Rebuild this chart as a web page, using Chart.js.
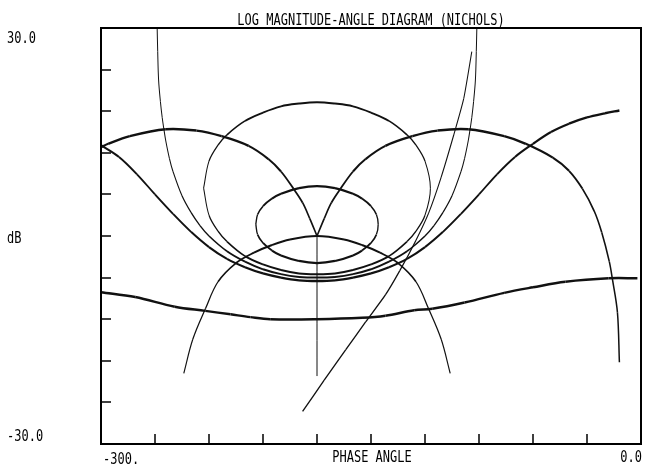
<!DOCTYPE html>
<html>
<head>
<meta charset="utf-8">
<script src="https://cdn.jsdelivr.net/npm/chart.js@4.4.0/dist/chart.umd.min.js"></script>
<style>
  html, body { margin: 0; padding: 0; background: #fff; }
  #wrap { width: 646px; height: 467px; }
</style>
</head>
<body>
<div id="wrap"><canvas id="c" width="646" height="467"></canvas></div>
<script>
// axes
const PHASE_MIN = -300, PHASE_MAX = 0;
const DB_MIN = -30, DB_MAX = 30;
const phaseTicks = [-270, -240, -210, -180, -150, -120, -90, -60, -30];
const dbTicks = [-24, -18, -12, -6, 0, 6, 12, 18, 24];
const yEndLabels = ['30.0', '-30.0'];
const xEndLabels = ['-300.', '0.0'];
const titleText = 'LOG MAGNITUDE-ANGLE DIAGRAM (NICHOLS)';
const xTitle = 'PHASE ANGLE';
const yTitle = 'dB';

// curves as [phase deg, dB]
// M = 0 dB
const m0 = [[-268.8, 30], [-268.5, 26.6], [-268, 22.5], [-267, 19.4], [-266, 17.1], [-265, 15.3], [-264, 13.7],
  [-262, 11.2], [-260, 9.3], [-255, 5.8], [-250, 3.4], [-245, 1.5], [-240, 0], [-230, -2.2], [-220, -3.7],
  [-210, -4.8], [-200, -5.5], [-190, -5.9], [-180, -6.0], [-170, -5.9], [-160, -5.5], [-150, -4.8],
  [-140, -3.7], [-130, -2.2], [-120, 0], [-115, 1.5], [-110, 3.4], [-105, 5.8], [-100, 9.3], [-98, 11.2],
  [-96, 13.7], [-95, 15.3], [-94, 17.1], [-93, 19.4], [-92, 22.5], [-91.5, 26.6], [-91.2, 30]];
// M = +1 dB (big oval)
const mPlus1 = [[-243, 6.9], [-240, 10.8], [-235, 13.1], [-230, 14.6], [-220, 16.6], [-210, 17.8], [-200, 18.7],
  [-190, 19.1], [-180, 19.3], [-170, 19.1], [-160, 18.7], [-150, 17.8], [-140, 16.6], [-130, 14.6],
  [-125, 13.1], [-120, 10.8], [-117, 6.9], [-120, 3.0], [-125, 0.7], [-130, -0.8], [-140, -2.9],
  [-150, -4.1], [-160, -4.9], [-170, -5.4], [-180, -5.5], [-190, -5.4], [-200, -4.9], [-210, -4.1],
  [-220, -2.9], [-230, -0.8], [-235, 0.7], [-240, 3.0], [-243, 6.9]];
// inner ellipse
const mPlus5 = [[-214, 1.7], [-213, 3.1], [-210, 4.3], [-205, 5.4], [-200, 6.1], [-190, 6.9], [-180, 7.2],
  [-170, 6.9], [-160, 6.1], [-155, 5.4], [-150, 4.3], [-147, 3.1], [-146, 1.7], [-147, 0.2], [-150, -1.0],
  [-155, -2.1], [-160, -2.8], [-170, -3.6], [-180, -3.9], [-190, -3.6], [-200, -2.8], [-205, -2.1],
  [-210, -1.0], [-213, 0.2], [-214, 1.7]];
// M = -1 dB
const mMinus1 = [[-300, 13.1], [-290, 11.4], [-280, 8.9], [-270, 6.0], [-260, 3.2], [-250, 0.6], [-240, -1.6],
  [-230, -3.3], [-220, -4.5], [-210, -5.4], [-200, -6.0], [-190, -6.4], [-180, -6.5], [-170, -6.4],
  [-160, -6.0], [-150, -5.4], [-140, -4.5], [-130, -3.3], [-120, -1.6], [-110, 0.6], [-100, 3.2],
  [-90, 6.0], [-80, 8.9], [-70, 11.4], [-60, 13.3], [-50, 15.0], [-40, 16.2], [-30, 17.1], [-20, 17.7],
  [-12, 18.1]];
// N contours
const nLeft = [[-300, 12.8], [-296, 13.3], [-284, 14.4], [-264, 15.4], [-247, 15.2], [-233, 14.4], [-218, 13.0],
  [-207, 11.1], [-200, 9.3], [-193, 6.8], [-188, 4.8], [-184, 2.5], [-180, 0]];
const nRight = [[-180, 0], [-176, 2.5], [-172, 4.8], [-167, 6.8], [-160, 9.3], [-153, 11.1], [-142, 13.0],
  [-127, 14.4], [-113, 15.2], [-96, 15.4], [-76, 14.4], [-64, 13.3], [-49, 11.3], [-40, 9.4], [-32.5, 6.8],
  [-26, 3.6], [-21.8, 0.5], [-17.6, -3.7], [-15.9, -6.2], [-13.1, -11.0], [-12, -18.2]];
const nDome = [[-254, -19.8], [-249, -14.9], [-242, -10.5], [-235, -6.6], [-225, -3.9], [-215, -2.4],
  [-205, -1.3], [-195, -0.5], [-180, 0], [-165, -0.5], [-155, -1.3], [-145, -2.4], [-135, -3.9],
  [-125, -6.6], [-118, -10.5], [-111, -14.9], [-106, -19.8]];
const nVertical = [[-180, 0], [-180, -20.2]];
// open loop response
const openLoop = [[-188, -25.3], [-176, -20.8], [-164, -16.4], [-153, -12.4], [-142, -8.5], [-134, -5.0],
  [-125, -0.6], [-118, 3.3], [-111, 8.5], [-104, 14.6], [-98.5, 19.8], [-94, 26.6]];
// closed loop response
const closedLoop = [[-300, -8.1], [-281, -8.8], [-259, -10.2], [-242, -10.8], [-228, -11.3], [-217, -11.7],
  [-206, -12.0], [-180, -12.0], [-155, -11.8], [-142, -11.5], [-126, -10.7], [-116, -10.5], [-98, -9.6],
  [-76, -8.2], [-60, -7.4], [-42, -6.6], [-18, -6.1], [-2, -6.1]];

const curves = [
  { pts: m0, w: 1.0 },
  { pts: mPlus1, w: 1.0 },
  { pts: mPlus5, w: 1.3 },
  { pts: mMinus1, w: 1.4 },
  { pts: nLeft, w: 1.5 },
  { pts: nRight, w: 1.5 },
  { pts: nDome, w: 1.1 },
  { pts: nVertical, w: 1.0 },
  { pts: openLoop, w: 1.0, t: 0.2 },
  { pts: closedLoop, w: 1.5 },
];

// plotter lines look heavier when they run flat
const segWidth = base => s => {
  const dx = s.p1.x - s.p0.x, dy = s.p1.y - s.p0.y;
  const len = Math.hypot(dx, dy) || 1;
  const h = Math.abs(dx) / len;
  return base + 1.0 * h * h;
};

function label(ctx, s, x, y, align) {
  ctx.save();
  ctx.translate(x, y);
  ctx.scale(1, 1.3);
  ctx.textAlign = align;
  ctx.textBaseline = 'alphabetic';
  ctx.fillText(s, 0, 0);
  ctx.restore();
}

const frame = {
  id: 'frame',
  afterDatasetsDraw(chart) {
    const { ctx, chartArea: a, scales: { x, y } } = chart;
    ctx.save();
    ctx.strokeStyle = '#000';
    ctx.lineWidth = 2;
    ctx.strokeRect(a.left, a.top, a.right - a.left, a.bottom - a.top);
    ctx.lineWidth = 1.5;
    ctx.beginPath();
    dbTicks.forEach(v => { const py = Math.round(y.getPixelForValue(v)); ctx.moveTo(a.left, py); ctx.lineTo(a.left + 10, py); });
    phaseTicks.forEach(v => { const px = Math.round(x.getPixelForValue(v)); ctx.moveTo(px, a.bottom); ctx.lineTo(px, a.bottom - 10); });
    ctx.stroke();

    ctx.fillStyle = '#000';
    ctx.font = '12px "DejaVu Sans Mono"';
    label(ctx, titleText, (a.left + a.right) / 2, a.top - 3, 'center');
    label(ctx, yEndLabels[0], 7, y.getPixelForValue(DB_MAX) + 15, 'left');
    label(ctx, yTitle, 7, y.getPixelForValue(0) + 7, 'left');
    label(ctx, yEndLabels[1], 7, y.getPixelForValue(DB_MIN) - 3, 'left');
    label(ctx, xEndLabels[0], x.getPixelForValue(PHASE_MIN) + 2, a.bottom + 20, 'left');
    label(ctx, xTitle, (a.left + a.right) / 2 + 1, a.bottom + 18, 'center');
    label(ctx, xEndLabels[1], x.getPixelForValue(PHASE_MAX) + 1, a.bottom + 18, 'right');
    ctx.restore();
  }
};

new Chart(document.getElementById('c'), {
  type: 'scatter',
  data: {
    datasets: curves.map(c => ({
      data: c.pts.map(p => ({ x: p[0], y: p[1] })),
      showLine: true,
      borderColor: '#111',
      borderWidth: c.w,
      pointRadius: 0,
      tension: c.t ?? 0.35,
      fill: false,
      segment: { borderWidth: segWidth(c.w) },
    }))
  },
  options: {
    responsive: false,
    animation: false,
    devicePixelRatio: 1,
    events: [],
    layout: { padding: { left: 101, top: 28, right: 5, bottom: 23 } },
    plugins: { legend: { display: false }, tooltip: { enabled: false } },
    scales: {
      x: { type: 'linear', min: PHASE_MIN, max: PHASE_MAX, display: false },
      y: { type: 'linear', min: DB_MIN, max: DB_MAX, display: false },
    },
  },
  plugins: [frame],
});
</script>
</body>
</html>
